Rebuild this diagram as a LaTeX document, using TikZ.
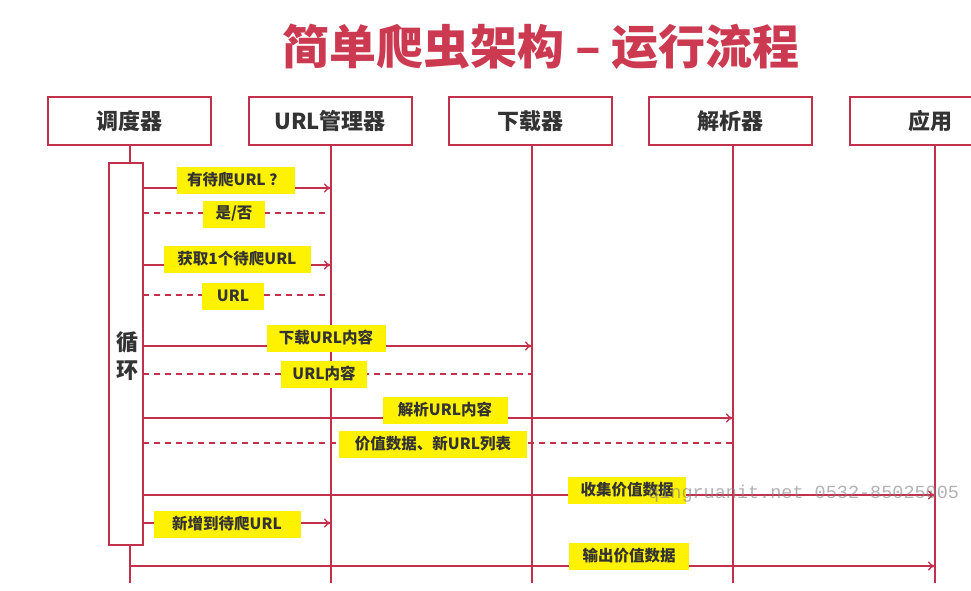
\documentclass[tikz,border=0pt]{standalone}
\usepackage{fontspec}
\newfontfamily\cjk{Noto Sans CJK SC}
\setmonofont{Liberation Mono}
\usetikzlibrary{arrows.meta}
\definecolor{crim}{HTML}{C3304C}
\definecolor{ttl}{HTML}{CB3A50}
\definecolor{txt}{HTML}{333333}
\tikzset{
  actor/.style={draw=crim,line width=2pt,fill=white,minimum width=163pt,minimum height=48pt,inner sep=0pt,font=\cjk\bfseries\fontsize{22}{22}\selectfont,text=txt},
  actortext/.style={inner sep=0pt,font=\cjk\bfseries\fontsize{22}{22}\selectfont,text=txt},
  life/.style={draw=crim,line width=1.6pt},
  msg/.style={draw=crim,line width=1.3pt,-{To[length=7pt,width=9pt]}},
  ret/.style={draw=crim,line width=1.3pt,dash pattern=on 6pt off 5pt},
  lbl/.style={fill=yellow,inner sep=0pt,minimum height=27pt,font=\cjk\bfseries\fontsize{15.5}{15.5}\selectfont,text=txt}
}
\begin{document}
\begin{tikzpicture}[x=1pt,y=-1pt]
\useasboundingbox (0,0) rectangle (971,591);
\fill[white] (0,0) rectangle (971,591);
% title
\node[font=\cjk\bfseries\fontsize{47}{47}\selectfont,text=ttl] (title) at (541,47) {简单爬虫架构 – 运行流程};
% actors
\node[actor] (a1) at (129.5,121) {调度器};
\node[actor] (a2) at (330,121) {URL管理器};
\node[actor] (a3) at (530,121) {下载器};
\node[actor] (a4) at (730,121) {解析器};
\node[actor,anchor=west] (a5) at (849,121) {};
\node[actortext] (a5t) at (930,121) {应用};
% lifeline end coordinates
\coordinate (e1) at (130,583);
\coordinate (e2) at (331,583);
\coordinate (e3) at (532,583);
\coordinate (e4) at (733,583);
\coordinate (e5) at (935,583);
\coordinate (s1) at (130,145);
\coordinate (s2) at (331,145);
\coordinate (s3) at (532,145);
\coordinate (s4) at (733,145);
\coordinate (s5) at (935,145);
\draw[life] (s1) -- (e1);
\draw[life] (s2) -- (e2);
\draw[life] (s3) -- (e3);
\draw[life] (s4) -- (e4);
\draw[life] (s5) -- (e5);
% activation
\node[draw=crim,line width=2pt,fill=white,minimum width=34pt,minimum height=382pt,inner sep=0pt] (act) at (126,354) {};
\node[font=\cjk\bfseries\fontsize{22}{22}\selectfont,text=txt,align=center] (loop) at (127,356) {循\\[6pt]环};
% message anchors
\coordinate (m1a) at (143,188); \coordinate (m1b) at (331,188);
\coordinate (m2a) at (143,213); \coordinate (m2b) at (331,213);
\coordinate (m3a) at (143,265); \coordinate (m3b) at (331,265);
\coordinate (m4a) at (143,295); \coordinate (m4b) at (331,295);
\coordinate (m5a) at (143,346); \coordinate (m5b) at (532,346);
\coordinate (m6a) at (143,374); \coordinate (m6b) at (532,374);
\coordinate (m7a) at (143,418); \coordinate (m7b) at (733,418);
\coordinate (m8a) at (143,443); \coordinate (m8b) at (733,443);
\coordinate (m9a) at (143,495); \coordinate (m9b) at (935,495);
\coordinate (m10a) at (143,523); \coordinate (m10b) at (331,523);
\coordinate (m11a) at (130,566); \coordinate (m11b) at (935,566);
\draw[msg] (m1a) -- (m1b);
\draw[ret] (m2a) -- (m2b);
\draw[msg] (m3a) -- (m3b);
\draw[ret] (m4a) -- (m4b);
\draw[msg] (m5a) -- (m5b);
\draw[ret] (m6a) -- (m6b);
\draw[msg] (m7a) -- (m7b);
\draw[ret] (m8a) -- (m8b);
\draw[msg] (m9a) -- (m9b);
\draw[msg] (m10a) -- (m10b);
\draw[msg] (m11a) -- (m11b);
% labels
\node[lbl,minimum width=118pt] (l1) at (236,180) {有待爬URL ？};
\node[lbl,minimum width=62pt] (l2) at (234,214) {是/否};
\node[lbl,minimum width=147pt] (l3) at (237,259) {获取1个待爬URL};
\node[lbl,minimum width=62pt] (l4) at (233,296) {URL};
\node[lbl,minimum width=119pt] (l5) at (326,338) {下载URL内容};
\node[lbl,minimum width=86pt] (l6) at (324,374) {URL内容};
\node[lbl,minimum width=125pt] (l7) at (445,410) {解析URL内容};
\node[lbl,minimum width=188pt] (l8) at (433,444) {价值数据、新URL列表};
\node[lbl,minimum width=118pt] (l9) at (627,490) {收集价值数据};
\node[lbl,minimum width=147pt] (l10) at (227,524) {新增到待爬URL};
\node[lbl,minimum width=120pt] (l11) at (629,556) {输出价值数据};
% watermark
\node[font=\ttfamily\fontsize{18.5}{18.5}\selectfont,text=gray,opacity=0.6,anchor=west,inner sep=0pt] (wm) at (648,494) {qingruanit.net 0532-85025005};
\end{tikzpicture}
\end{document}
